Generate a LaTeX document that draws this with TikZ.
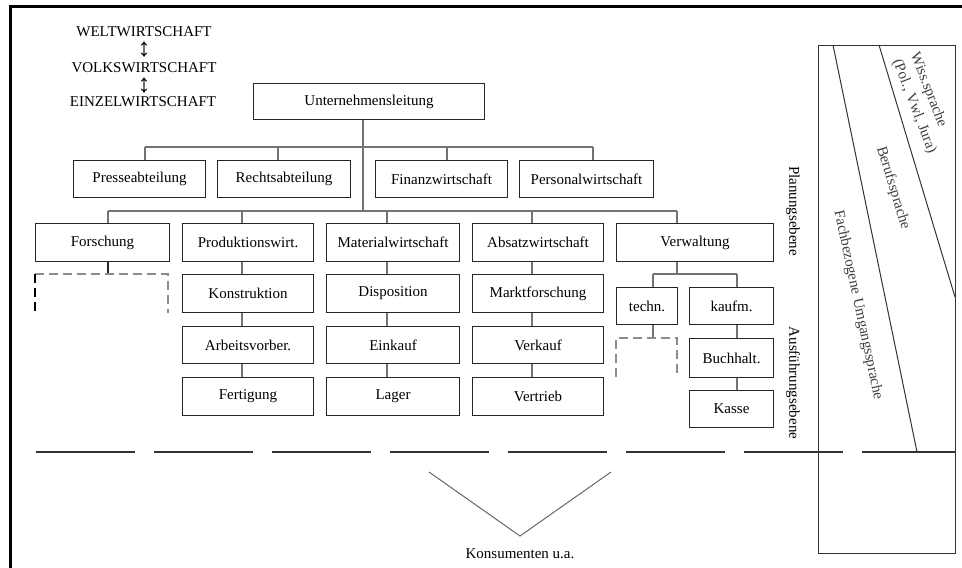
\documentclass[tikz,border=0pt]{standalone}
\usepackage{fontspec}
\setmainfont{Liberation Serif}
\begin{document}
\begin{tikzpicture}[x=1pt,y=-1pt,
  font=\fontsize{15}{17}\selectfont,
  box/.style={draw=black!85, line width=1.1pt, inner sep=0pt, anchor=north west},
  conn/.style={draw=black!55, line width=1.2pt},
  dashbox/.style={draw=black!45, line width=1.2pt, dash pattern=on 9pt off 5pt},
  frame/.style={draw=black, line width=3pt},
  panel/.style={draw=black!80, line width=1pt},
  lang/.style={text=black!75, inner sep=0pt},
  level/.style={inner sep=0pt, rotate=-90},
  updown/.style={inner sep=0pt, font=\fontsize{26}{26}\selectfont},
]
\useasboundingbox (0,0) rectangle (962,568);

% name, text, x1, x2, y1, y2
\newcommand\orgbox[6]{\node[box,minimum width={#4-#3},minimum height={#6-#5}] (#1) at (#3,#5) {#2};}

% outer frame
\coordinate (fb) at (10,568);
\coordinate (fc) at (10,6);
\coordinate (fr) at (962,6);
\draw[frame] (fb) -- (fc) -- (fr);

% economic levels
\node (welt) at (144,32) {WELTWIRTSCHAFT};
\node[updown] (ar1) at (144,50) {↕};
\node (volk) at (144,68) {VOLKSWIRTSCHAFT};
\node[updown] (ar2) at (144,86) {↕};
\node (einz) at (143,102) {EINZELWIRTSCHAFT};

% boxes
\orgbox{ul}{Unternehmensleitung}{253}{484}{83}{119}
\orgbox{presse}{Presseabteilung}{73}{205}{160}{197}
\orgbox{recht}{Rechtsabteilung}{217}{350}{160}{197}
\orgbox{finanz}{Finanzwirtschaft}{375}{507}{160}{197}
\orgbox{personal}{Personalwirtschaft}{519}{653}{160}{197}
\orgbox{forsch}{Forschung}{35}{169}{223}{261}
\orgbox{prod}{Produktionswirt.}{182}{313}{223}{261}
\orgbox{mat}{Materialwirtschaft}{326}{459}{223}{261}
\orgbox{abs}{Absatzwirtschaft}{472}{603}{223}{261}
\orgbox{verw}{Verwaltung}{616}{773}{223}{261}
\orgbox{konst}{Konstruktion}{182}{313}{274}{312}
\orgbox{dispo}{Disposition}{326}{459}{274}{312}
\orgbox{markt}{Marktforschung}{472}{603}{274}{312}
\orgbox{arbeit}{Arbeitsvorber.}{182}{313}{326}{363}
\orgbox{einkauf}{Einkauf}{326}{459}{326}{363}
\orgbox{verkauf}{Verkauf}{472}{603}{326}{363}
\orgbox{fertig}{Fertigung}{182}{313}{377}{415}
\orgbox{lager}{Lager}{326}{459}{377}{415}
\orgbox{vertrieb}{Vertrieb}{472}{603}{377}{415}
\orgbox{techn}{techn.}{616}{677}{287}{324}
\orgbox{kaufm}{kaufm.}{689}{773}{287}{324}
\orgbox{buch}{Buchhalt.}{689}{773}{338}{377}
\orgbox{kasse}{Kasse}{689}{773}{390}{427}

% first level bus
\coordinate (b1) at (363,147);
\coordinate (b2) at (363,211);
\coordinate (dP) at (145,147);
\coordinate (dR) at (278,147);
\coordinate (dF) at (447,147);
\coordinate (dPe) at (593,147);
\draw[conn] (ul.south -| b1) -- (b2);
\draw[conn] (dP) -- (dPe);
\foreach \c/\n in {dP/presse, dR/recht, dF/finanz, dPe/personal}
  \draw[conn] (\c) -- (\c |- \n.north);

% second level bus
\coordinate (dFo) at (108,211);
\coordinate (dPr) at (242,211);
\coordinate (dM) at (387,211);
\coordinate (dA) at (532,211);
\coordinate (dV) at (677,211);
\draw[conn] (dFo) -- (dV);
\foreach \c/\n in {dFo/forsch, dPr/prod, dM/mat, dA/abs, dV/verw}
  \draw[conn] (\c) -- (\c |- \n.north);

% department chains
\foreach \c/\a/\b in {dPr/prod/konst, dPr/konst/arbeit, dPr/arbeit/fertig,
                      dM/mat/dispo, dM/dispo/einkauf, dM/einkauf/lager,
                      dA/abs/markt, dA/markt/verkauf, dA/verkauf/vertrieb}
  \draw[conn] (\a.south -| \c) -- (\b.north -| \c);

% open research branch
\coordinate (fd1) at (35,313);
\coordinate (fd2) at (35,274);
\coordinate (fd3) at (168,274);
\coordinate (fd4) at (168,313);
\draw[conn, draw=black!85] (forsch.south -| dFo) -- (dFo |- fd2);
\draw[dashbox] (fd2) -- (fd3) -- (fd4);
\draw[dashbox, draw=black] (fd2) -- (fd1);

% administration
\coordinate (vb) at (677,274);
\coordinate (vl) at (653,274);
\coordinate (vr) at (737,274);
\draw[conn] (verw.south -| vb) -- (vb);
\draw[conn] (vl) -- (vr);
\draw[conn] (vl) -- (vl |- techn.north);
\draw[conn] (vr) -- (vr |- kaufm.north);
\draw[conn] (kaufm.south -| vr) -- (buch.north -| vr);
\draw[conn] (buch.south -| vr) -- (kasse.north -| vr);
\coordinate (td1) at (616,377);
\coordinate (td2) at (616,338);
\coordinate (td3) at (677,338);
\coordinate (td4) at (677,377);
\draw[conn] (techn.south -| vl) -- (vl |- td2);
\draw[dashbox] (td1) -- (td2) -- (td3) -- (td4);

% level labels
\node[level] (plan) at (793,211) {Planungsebene};
\node[level] (ausf) at (793,383) {Ausführungsebene};

% boundary of the company
\coordinate (hl) at (36,452);
\coordinate (hr) at (955,452);
\draw[line width=1.3pt, draw=black!80, dash pattern=on 99pt off 19pt] (hl) -- (hr);

% consumers
\coordinate (v1) at (429,472);
\coordinate (v2) at (520,536);
\coordinate (v3) at (611,472);
\draw[line width=1pt, draw=black!60] (v1) -- (v2) -- (v3);
\node (kons) at (520,554) {Konsumenten u.a.};

% language registers
\coordinate (p1) at (818,45);
\coordinate (p2) at (955,553);
\draw[panel] (p1) rectangle (p2);
\coordinate (l1a) at (833,45);
\coordinate (l1b) at (917,452);
\coordinate (l2a) at (879,45);
\coordinate (l2b) at (955,297);
\draw[panel] (l1a) -- (l1b);
\draw[panel] (l2a) -- (l2b);
\node[lang, rotate=-69, align=left, font=\fontsize{15}{19}\selectfont] (wiss) at (923,103)
  {Wiss.sprache\\(Pol., Vwl, Jura)};
\node[lang, rotate=-73] (beruf) at (893,188) {Berufssprache};
\node[lang, rotate=-78] (fach) at (858,305) {Fachbezogene Umgangssprache};
\end{tikzpicture}
\end{document}
